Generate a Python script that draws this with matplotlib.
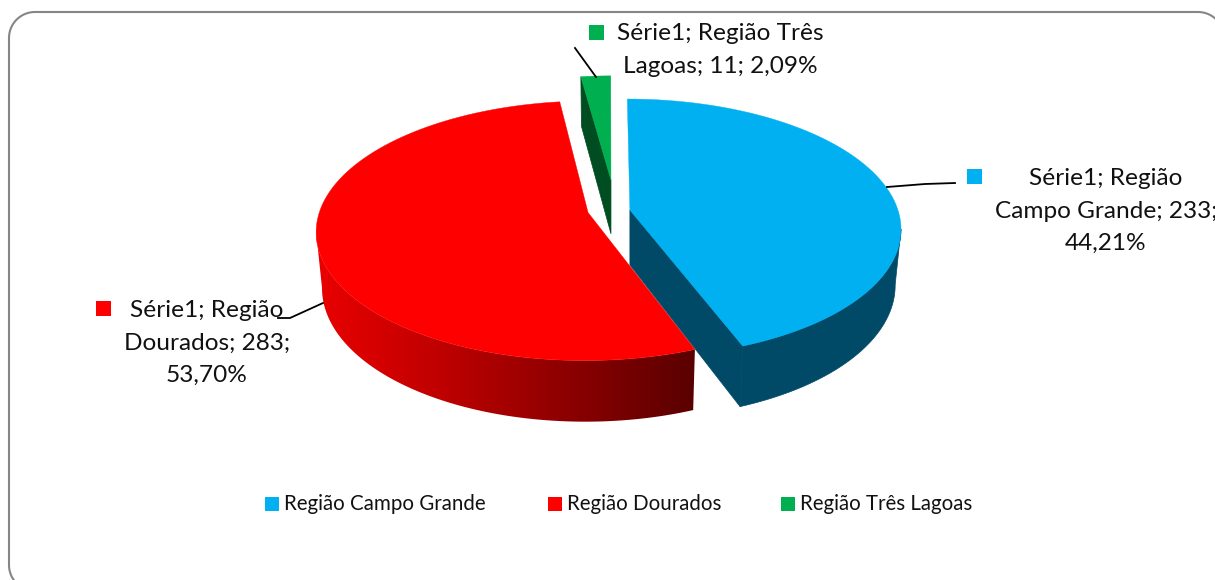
import numpy as np
import matplotlib
matplotlib.use("Agg")
import matplotlib.pyplot as plt
from matplotlib.colors import LinearSegmentedColormap
from matplotlib.patches import Polygon, Rectangle

categories = ["Região Campo Grande", "Região Dourados", "Região Três Lagoas"]
values = [233, 283, 11]
series_name = "Série1"

colors = ["#00B0F0", "#FF0000", "#00B050"]
wall_colors = ["#004A68", "#D00000", "#004D22"]

# pie geometry in pixels, fitted by eye to the 3d look of the picture
CX, CY = 609, 210
RX, RY = 268, 126.5
PERSP = 0.14
DEPTH = 55
BOTTOM_SCALE = 0.98
offsets = [(0.078, 0.0), (-0.078, -0.02), (0.0076, 0.245)]

plt.rcParams["font.family"] = ["Lato", "DejaVu Sans"]

fig = plt.figure(figsize=(12.15, 5.80), dpi=100)
ax = fig.add_axes([0, 0, 1, 1])
ax.set_xlim(0, 1215)
ax.set_ylim(580, 0)
ax.axis("off")


def top_xy(u, v):
    w = 1 + PERSP * v
    return CX + RX * u / w, CY - RY * v / w


def bottom_xy(u, v):
    x, y = top_xy(u, v)
    w = 1 + PERSP * v
    return CX + BOTTOM_SCALE * (x - CX), CY + BOTTOM_SCALE * (y - CY) + DEPTH / w


def draw_slice(start, end, off, color, wall, gradient=False, cut=None):
    t = np.linspace(start, end, 300)
    u, v = off[0] + np.sin(t), off[1] + np.cos(t)
    xt, yt = top_xy(u, v)
    xb, yb = bottom_xy(u, v)
    # outer wall, only between the left and right extremes of the ellipse
    front = np.cos(t) < -PERSP
    if front.any():
        wall_pts = np.column_stack([np.r_[xt[front], xb[front][::-1]],
                                    np.r_[yt[front], yb[front][::-1]]])
        if gradient:
            cmap = LinearSegmentedColormap.from_list(
                "red_wall", ["#EA0000", "#BE0000", "#8C0000", "#5A0000"])
            x0, x1 = wall_pts[:, 0].min(), wall_pts[:, 0].max()
            y0, y1 = wall_pts[:, 1].min(), wall_pts[:, 1].max()
            im = ax.imshow(np.linspace(0, 1, 256).reshape(1, -1), cmap=cmap, aspect="auto",
                           extent=[x0, x1, y1, y0], zorder=2)
            clip = Polygon(wall_pts, closed=True, transform=ax.transData, fc="none", ec="none")
            ax.add_patch(clip)
            im.set_clip_path(clip)
        else:
            ax.add_patch(Polygon(wall_pts, closed=True, fc=wall, ec=wall, lw=0.5, zorder=2))
    ax0, ay0 = top_xy(off[0], off[1])
    bx0, by0 = bottom_xy(off[0], off[1])
    # cut face
    if cut is not None:
        k = -1 if cut == "end" else 0
        ax.add_patch(Polygon([(ax0, ay0), (xt[k], yt[k]), (xb[k], yb[k]), (ax0, by0)],
                             closed=True, fc=wall, ec=wall, lw=0.5, zorder=2))
    top = np.column_stack([np.r_[ax0, xt], np.r_[ay0, yt]])
    ax.add_patch(Polygon(top, closed=True, fc=color, ec=color, lw=0.3, zorder=2))


fracs = np.array(values) / sum(values)
edges = np.r_[0, np.cumsum(fracs)] * 2 * np.pi

draw_slice(edges[2], edges[3], offsets[2], colors[2], wall_colors[2], cut="start")
draw_slice(edges[0], edges[1], offsets[0], colors[0], wall_colors[0], cut="end")
draw_slice(edges[1], edges[2], offsets[1], colors[1], wall_colors[1], gradient=True)

# outer rounded frame, runs off the right and bottom of the picture
fl, ft, fr, fb, frad = 9, 12, 1224, 591, 26
fx, fy = [], []
for ccx, ccy, a0 in [(fl + frad, ft + frad, 180), (fr - frad, ft + frad, 270),
                     (fr - frad, fb - frad, 0), (fl + frad, fb - frad, 90)]:
    a = np.radians(np.linspace(a0, a0 + 90, 30))
    fx.extend(ccx + frad * np.cos(a))
    fy.extend(ccy + frad * np.sin(a))
ax.plot(fx + fx[:1], fy + fy[:1], color="#868686", lw=1.5, zorder=1)

# data labels
pct = [f"{f * 100:.2f}".replace(".", ",") + "%" for f in fracs]
labels = [
    f"{series_name}; Região\nCampo Grande; {values[0]};\n{pct[0]}",
    f"{series_name}; Região\nDourados; {values[1]};\n{pct[1]}",
    f"{series_name}; Região Três\nLagoas; {values[2]}; {pct[2]}",
]
label_pos = [(1106, 211), (207, 343), (720, 50)]
marker_pos = [(974, 176), (103, 308), (596, 32)]
leaders = [
    [(887, 187), (925, 184), (955, 183)],
    [(278, 318), (290, 318), (323, 303)],
    [(575, 48), (596, 77)],
]
for i in range(3):
    ax.text(label_pos[i][0], label_pos[i][1], labels[i], ha="center", va="center",
            fontsize=17.6, color="#111111", linespacing=1.67, zorder=4)
    mx, my = marker_pos[i]
    ax.add_patch(Rectangle((mx - 7.5, my - 7.5), 15, 15, fc=colors[i], ec="none", zorder=4))
    ax.plot(*zip(*leaders[i]), color="black", lw=1.3, zorder=3)

# legend
legend_x = [265, 548, 781]
for i in range(3):
    ax.add_patch(Rectangle((legend_x[i], 497), 14, 13.5, fc=colors[i], ec="none", zorder=4))
    ax.text(legend_x[i] + 19, 504, categories[i], ha="left", va="center",
            fontsize=14.8, color="#111111", zorder=4)

fig.savefig("out.png", dpi=100)
